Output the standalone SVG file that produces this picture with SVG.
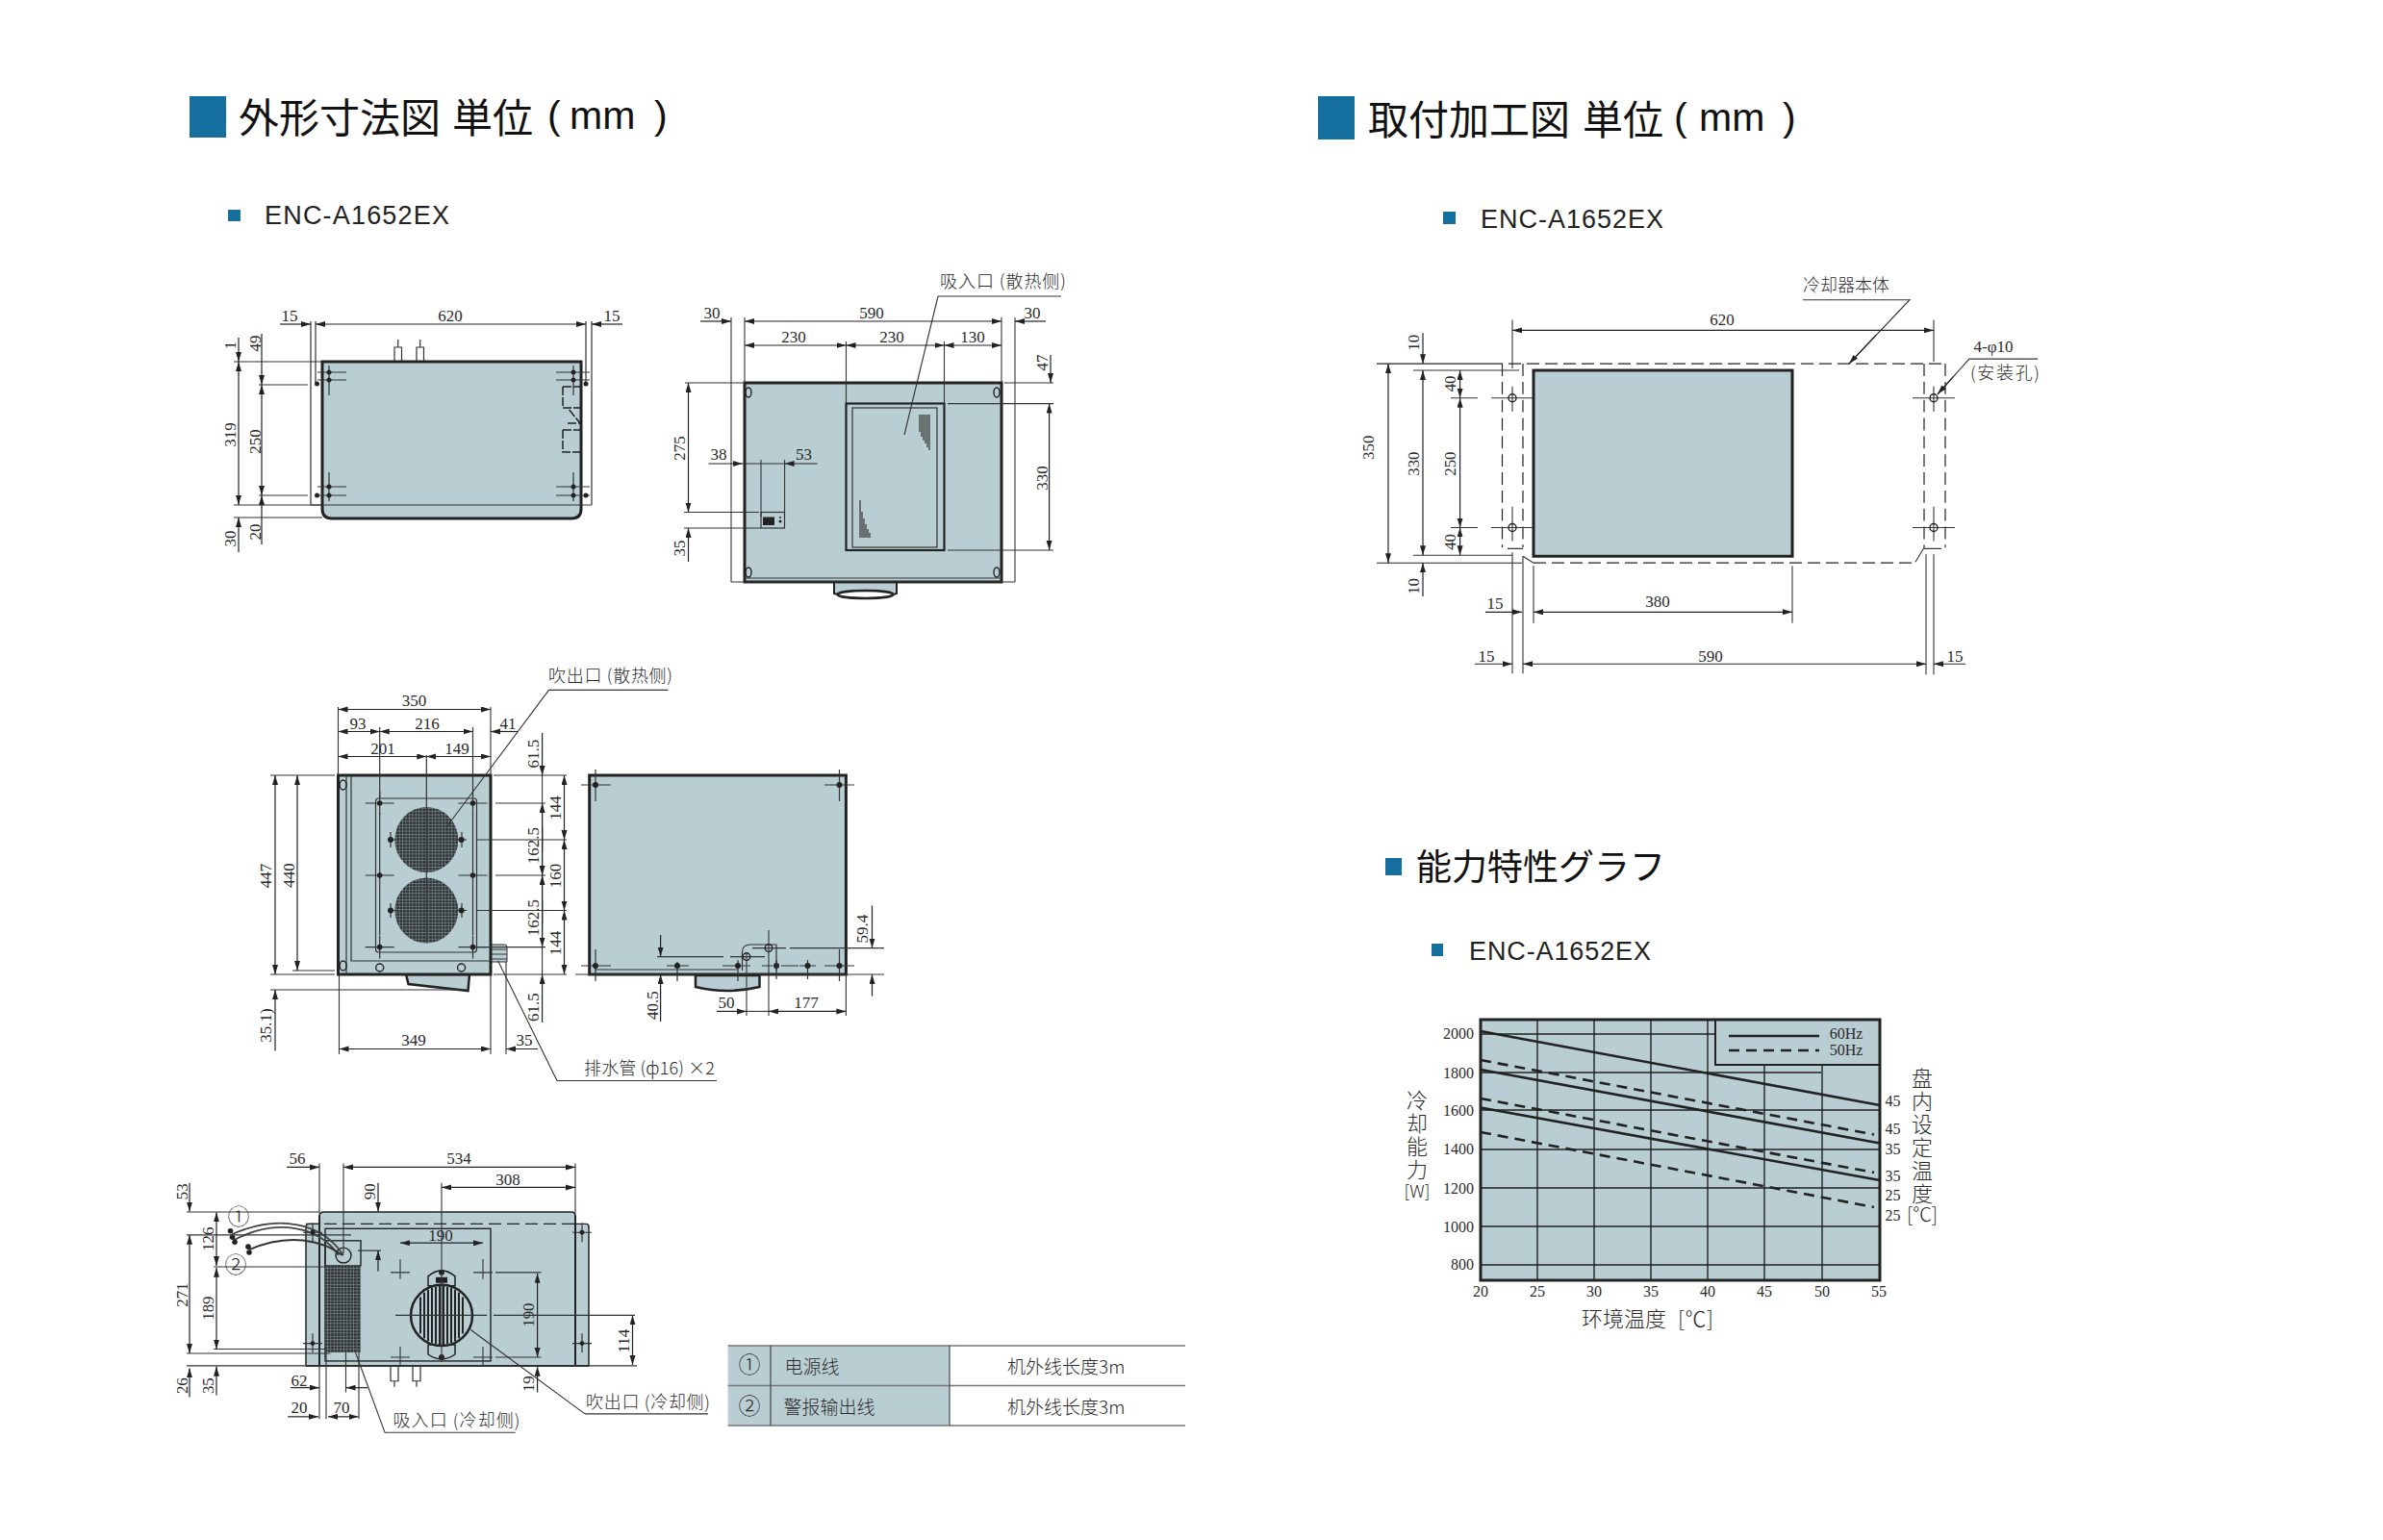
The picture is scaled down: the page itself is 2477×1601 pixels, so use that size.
<svg xmlns="http://www.w3.org/2000/svg" width="2477" height="1601" viewBox="0 0 2477 1601">
<style>
.bl{fill:#16709f}
.body{fill:#b9ced3;stroke:#222;stroke-width:3}
.fl{fill:#b9ced3;stroke:none}
.th{fill:none;stroke:#333;stroke-width:1.2}
.x{fill:none;stroke:#333;stroke-width:1.1}
.dk{fill:none;stroke:#222;stroke-width:2}
.ds{fill:none;stroke:#222;stroke-width:1.4;stroke-dasharray:13 6}
.b{fill:none;stroke:#222;stroke-width:1.2;marker-start:url(#a);marker-end:url(#a)}
.e{fill:none;stroke:#222;stroke-width:1.2;marker-end:url(#a)}
.dot{fill:#222}
.hole{fill:none;stroke:#222;stroke-width:1.4}
text{fill:#2a2a2a}
.n{font:17px "Liberation Serif","Noto Sans CJK SC",serif;text-anchor:middle}
.c{font:300 18px "Noto Sans CJK SC","Noto Sans CJK JP",sans-serif}
.h{font:400 42px "Noto Sans CJK JP","Noto Sans CJK SC",sans-serif;fill:#111}
.l{font:300 41px "Liberation Sans",Arial,sans-serif;fill:#111}
.s{font:27px "Liberation Sans",Arial,sans-serif;fill:#222}
.v{font:300 22px "Noto Sans CJK SC",sans-serif;text-anchor:middle}
.vv{font:300 22px "Noto Sans CJK SC",sans-serif;writing-mode:vertical-rl;letter-spacing:2px}
.g{font:16px "Liberation Serif",serif;text-anchor:middle}
.ly{font:16px "Liberation Serif",serif;text-anchor:end}
.ls{font:16px "Liberation Serif",serif}
.t{font:300 19px "Noto Sans CJK SC",sans-serif}
.ci{font:300 23px "Noto Sans CJK SC",sans-serif;text-anchor:middle}
</style>
<defs>
<marker id="a" markerUnits="userSpaceOnUse" markerWidth="11" markerHeight="7" refX="10" refY="3" orient="auto-start-reverse"><path d="M0 0L10 3L0 6z" fill="#222"/></marker>
<pattern id="mesh" width="3.4" height="3.4" patternUnits="userSpaceOnUse"><rect width="3.4" height="3.4" fill="#2d3133"/><path d="M0 .5H3.4M.5 0V3.4" stroke="#7d8b8f" stroke-width=".7"/></pattern>
<g id="cr"><path class="th" d="M-15 0H15M0 -12V12"/><circle class="dot" r="2.8"/></g>
</defs>
<rect width="2477" height="1601" fill="#fff"/>

<g id="headings">
<rect class="bl" x="197" y="100" width="38" height="43"/>
<text class="h" x="248" y="138">外形寸法図</text><text class="h" x="470" y="138">単位</text><text class="l" x="569" y="134">(</text><text class="l" x="592" y="134">mm</text><text class="l" x="680" y="134">)</text>
<rect class="bl" x="237" y="218" width="13" height="12"/><text class="s" x="275" y="233" textLength="192">ENC-A1652EX</text>
<rect class="bl" x="1370" y="100" width="38" height="45"/>
<text class="h" x="1422" y="139.500">取付加工図</text><text class="h" x="1645" y="139.500">単位</text><text class="l" x="1740" y="136">(</text><text class="l" x="1766" y="136">mm</text><text class="l" x="1853" y="136">)</text>
<rect class="bl" x="1500" y="220" width="13" height="13"/><text class="s" x="1539" y="236.500" textLength="190">ENC-A1652EX</text>
<rect class="bl" x="1440" y="892" width="17" height="18"/>
<text class="h" style="font-size:37px" x="1472" y="915">能力特性グラフ</text>
<rect class="bl" x="1488" y="981" width="12" height="13"/><text class="s" x="1527" y="997.500" textLength="189">ENC-A1652EX</text>
</g>

<g id="view-side-top" transform="translate(0,-1)">
<path class="th" d="M410 377V362H417.500V377M433 377V362H440.500V377M413.700 362V354M436.700 362V354"/>
<path class="body" d="M335 377H604V530Q604 540 594 540H345Q335 540 335 530Z"/>
<path class="th" d="M323 335V526M328 335V400M615 335V526M609 335V400M323 526H615M335 526H604"/>
<path class="x" d="M243 377H335M269 401H320M269 516H320M243 526H335M243 539H335"/>
<path class="th" d="M330 388H360M330 396H360M330 507H360M330 516H360M578 388H613M578 396H613M578 507H613M578 516H613M342 381V412M342 492V522M596 381V412M596 492V522"/>
<circle class="dot" cx="342" cy="388" r="2.5"/><circle class="dot" cx="342" cy="396" r="2.5"/><circle class="dot" cx="342" cy="507" r="2.5"/><circle class="dot" cx="342" cy="516" r="2.5"/>
<circle class="dot" cx="596" cy="388" r="2.5"/><circle class="dot" cx="596" cy="396" r="2.5"/><circle class="dot" cx="596" cy="507" r="2.5"/><circle class="dot" cx="596" cy="516" r="2.5"/>
<circle class="dot" cx="329.500" cy="400" r="2.5"/><circle class="dot" cx="609" cy="400" r="2.5"/><circle class="dot" cx="329.500" cy="516" r="2.5"/><circle class="dot" cx="609" cy="516" r="2.5"/>
<path class="dk" style="stroke-width:1.500;stroke-dasharray:9 2" d="M585 403H603M585 403V425H603M590 441H603L590 425M585 448H603M585 448V471H603"/>
<path class="b" d="M328 338H609"/><path class="e" d="M291 338H323"/><path class="e" d="M647 338H615"/>
<path class="e" d="M248 352V377"/><path class="b" d="M248 377V526"/><path class="e" d="M248 575V539"/>
<path class="e" d="M272 348V401"/><path class="b" d="M272 401V516"/><path class="e" d="M272 567V516"/>
<text class="n" x="301" y="335">15</text><text class="n" x="468" y="335">620</text><text class="n" x="636" y="335">15</text>
<text class="n" x="245" y="360" transform="rotate(-90 245 360)">1</text><text class="n" x="271" y="358" transform="rotate(-90 271 358)">49</text>
<text class="n" x="245" y="453" transform="rotate(-90 245 453)">319</text><text class="n" x="271" y="460" transform="rotate(-90 271 460)">250</text>
<text class="n" x="245" y="561" transform="rotate(-90 245 561)">30</text><text class="n" x="271" y="554" transform="rotate(-90 271 554)">20</text>
</g>

<g id="view-back-top" transform="translate(0,-1)">
<rect class="fl" x="774" y="399" width="267" height="207"/>
<path d="M867 606V618Q899 628 932 618V606Z" fill="#b9ced3" stroke="#222" stroke-width="2"/>
<ellipse cx="899.500" cy="619" rx="29" ry="4" fill="#fff" stroke="#222" stroke-width="2.500"/>
<rect class="body" x="774" y="399" width="267" height="207" style="fill:none"/>
<path class="th" d="M774 602H1041"/>
<ellipse class="hole" cx="778" cy="409" rx="3" ry="5"/><ellipse class="hole" cx="1036" cy="409" rx="3" ry="5"/><ellipse class="hole" cx="778" cy="596" rx="3" ry="5"/><ellipse class="hole" cx="1036" cy="596" rx="3" ry="5"/>
<rect x="879.500" y="420.500" width="102" height="152.500" fill="none" stroke="#222" stroke-width="2.200"/>
<rect x="886" y="425" width="88" height="145" fill="none" stroke="#333" stroke-width="1.200"/>
<path class="th" d="M956 432V450M958 432V455M960 432V459M962 432V462M964 432V466M966 432V469M894 521V560M896 533V560M898 540V560M900 546V560M902 551V560M904 555V560"/>
<rect x="791" y="533.500" width="24.500" height="16.500" fill="none" stroke="#333" stroke-width="1.200"/><rect class="dot" x="793" y="538.500" width="12" height="8.500"/><circle class="dot" cx="811" cy="539" r="1"/><circle class="dot" cx="811" cy="543" r="1.500"/>
<path class="x" d="M760 331V606M1055 331V606M774 331V399M1041 331V399M879.500 356V420M981.500 356V420M1044 399H1095M985 420.600H1095M985 573H1095M712 399H774M711 533.500H789M711 550H791M791 479V538M815.600 479V533M760 606H1055"/>
<path class="x" d="M975 309H1103M975 309L940 453"/>
<path class="b" d="M774 335H1041"/><path class="e" d="M728 335H760"/><path class="e" d="M1087 335H1055"/>
<path class="b" d="M774 360H879.500"/><path class="b" d="M879.500 360H981.500"/><path class="b" d="M981.500 360H1041"/>
<path class="e" d="M1092 370V399"/><path class="b" d="M1090.600 420.600V573"/><path class="b" d="M715.500 399V533.500"/><path class="e" d="M715.500 585V550"/>
<path class="e" d="M736.500 483H771.600"/><path class="x" d="M771 483H816"/><path class="e" d="M849.500 483H815.600"/>
<text class="n" x="740" y="332">30</text><text class="n" x="906" y="332">590</text><text class="n" x="1073" y="332">30</text>
<text class="n" x="825" y="357">230</text><text class="n" x="927" y="357">230</text><text class="n" x="1011" y="357">130</text>
<text class="n" x="747" y="479">38</text><text class="n" x="835.500" y="479">53</text>
<text class="n" x="1089" y="378" transform="rotate(-90 1089 378)">47</text><text class="n" x="1089" y="498" transform="rotate(-90 1089 498)">330</text>
<text class="n" x="712" y="467" transform="rotate(-90 712 467)">275</text><text class="n" x="712" y="571" transform="rotate(-90 712 571)">35</text>
<text class="c" x="977" y="300" textLength="131">吸入口 (散热侧)</text>
</g>

<g id="view-heat-side">
<path d="M422 1013L424.500 1023L486.500 1030L488 1013Z" fill="#b9ced3" stroke="#222" stroke-width="2.500"/>
<path d="M508.500 982H525Q527 982 527 985V1000H508.500Z" fill="#b9ced3" stroke="#333" stroke-width="1"/>
<path class="th" d="M506 987H527M506 992H527M506 997H527"/>
<rect class="body" x="351.500" y="806" width="158.500" height="207"/>
<path class="th" d="M360 806V1013M365 806V999H510"/>
<ellipse class="hole" cx="356.600" cy="816" rx="3.500" ry="5"/><ellipse class="hole" cx="356.600" cy="1004" rx="3.500" ry="5"/>
<circle class="hole" cx="394.700" cy="1006" r="4"/><circle class="hole" cx="479.600" cy="1006" r="4"/>
<rect x="390.500" y="830" width="105" height="160" rx="3" fill="none" stroke="#333" stroke-width="1.200"/>
<ellipse cx="443.300" cy="873" rx="33" ry="34" fill="url(#mesh)"/><ellipse cx="443.300" cy="946.500" rx="33" ry="34" fill="url(#mesh)"/>
<path class="th" d="M394.700 756V830M394.700 845V898M394.700 922V972M491.500 756V830M491.500 845V898M491.500 922V972M443.300 785V980"/>
<use href="#cr" x="394.700" y="835"/><use href="#cr" x="491.500" y="835"/><use href="#cr" x="394.700" y="910"/><use href="#cr" x="491.500" y="910"/><use href="#cr" x="394.700" y="984.600"/><use href="#cr" x="491.500" y="984.600"/>
<path class="th" d="M404 873H412M406 865V881M475 873H485M480 865V881M404 946.500H412M406 939V954M475 946.500H485M480 939V954"/>
<circle class="dot" cx="406" cy="873" r="3"/><circle class="dot" cx="479.600" cy="873" r="3"/><circle class="dot" cx="406" cy="946.500" r="3"/><circle class="dot" cx="479.600" cy="946.500" r="3"/>
<path class="x" d="M351.500 735V806M510 735V806M281 806H348M513 806H589M515 835H567M496 873H589M515 910H567M496 946.500H589M496 984.600H567M281 1013H348M513 1013H589M304 1009H348M281 1029H485.600M352.500 1014V1096M510 1014V1096M526 1000V1096"/>
<path class="x" d="M570.500 717.400H694.500M570.500 717.400L464 860M579 1123.500H745M579 1123.500L517.700 999"/>
<path class="b" d="M351.500 737.500H510"/><path class="b" d="M351.500 760.500H394.700"/><path class="b" d="M394.700 760.500H491.500"/><path class="e" d="M538 760.500H510"/>
<path class="b" d="M351.500 786.500H443.300"/><path class="b" d="M443.300 786.500H510"/>
<path class="b" d="M286 806V1013"/><path class="b" d="M309 806V1009"/><path class="e" d="M286 1092.500V1029"/>
<path class="e" d="M563.600 762V806"/><path class="e" d="M563.600 1063V1013"/><path class="x" d="M563.600 806V1013"/>
<path class="e" d="M563.600 885V835"/><path class="e" d="M563.600 860V910"/><path class="e" d="M563.600 960V910"/><path class="e" d="M563.600 935V984.600"/>
<path class="b" d="M586.500 806V873"/><path class="b" d="M586.500 873V946.500"/><path class="b" d="M586.500 946.500V1013"/>
<path class="b" d="M352.500 1090.500H510"/><path class="e" d="M559 1090.500H526"/>
<text class="n" x="430.500" y="734">350</text><text class="n" x="372" y="757.500">93</text><text class="n" x="444" y="757.500">216</text><text class="n" x="528" y="757.500">41</text><text class="n" x="398" y="783.500">201</text><text class="n" x="475" y="783.500">149</text>
<text class="n" x="282" y="910.500" transform="rotate(-90 282 910.500)">447</text><text class="n" x="306" y="910" transform="rotate(-90 306 910)">440</text><text class="n" x="282" y="1066" transform="rotate(-90 282 1066)">35.1)</text>
<text class="n" x="560" y="783.500" transform="rotate(-90 560 783.500)">61.5</text><text class="n" x="560" y="879" transform="rotate(-90 560 879)">162.5</text><text class="n" x="560" y="954" transform="rotate(-90 560 954)">162.5</text><text class="n" x="560" y="1047" transform="rotate(-90 560 1047)">61.5</text>
<text class="n" x="583" y="840" transform="rotate(-90 583 840)">144</text><text class="n" x="583" y="910.500" transform="rotate(-90 583 910.500)">160</text><text class="n" x="583" y="980.600" transform="rotate(-90 583 980.600)">144</text>
<text class="n" x="430" y="1087">349</text><text class="n" x="545" y="1087">35</text>
<text class="c" x="570" y="709" textLength="129">吹出口 (散热侧)</text>
<text class="c" x="607" y="1117" textLength="136">排水管 (ф16) ×2</text>
</g>

<g id="view-back-side">
<path d="M723 1014V1026Q756 1034 789.500 1026V1014Z" fill="#b9ced3" stroke="#222" stroke-width="2.500"/>
<rect class="body" x="612.700" y="806" width="266.700" height="207"/>
<path class="th" d="M598 1013H919M618 1008H767"/>
<path class="th" d="M604 816H635M619 800V833M857 816H888M872.500 800V833M604 1004H635M619 987V1020M857 1004H888M872.500 987V1020M693 1004H716M704 1000V1020M751 1004H780M767 998V1020M792 1004H803M812 1004H830M807 998V1018M831 1004H848M839.500 998V1018"/>
<circle class="dot" cx="619" cy="816" r="3"/><circle class="dot" cx="872.500" cy="816" r="3"/><circle class="dot" cx="619" cy="1004" r="3"/><circle class="dot" cx="872.500" cy="1004" r="3"/><circle class="dot" cx="704" cy="1004" r="3"/><circle class="dot" cx="767" cy="1004" r="3"/><circle class="dot" cx="807" cy="1004" r="3"/><circle class="dot" cx="839.500" cy="1004" r="3"/>
<path class="th" d="M771.500 1009V990Q771.500 982 780 982H807V1009"/>
<circle class="hole" cx="776" cy="994.600" r="3.800"/><circle class="hole" cx="799" cy="985.600" r="3.800"/>
<path class="x" d="M683 994.600H752M759 994.600H795M782 985.600H817M821 985.600H919M776 990V1056M799 967V1056M879.400 1013V1056"/>
<path class="e" d="M906.500 941.500V985.600"/><path class="e" d="M906.500 1035.700V1013"/><path class="e" d="M686.600 972V994.600"/><path class="e" d="M686.600 1062V1013"/>
<path class="e" d="M745 1051.400H776"/><path class="x" d="M776 1051.400H799"/><path class="b" d="M799 1051.400H879.400"/>
<text class="n" x="902" y="965.600" transform="rotate(-90 902 965.600)">59.4</text><text class="n" x="684" y="1045" transform="rotate(-90 684 1045)">40.5</text>
<text class="n" x="755" y="1048">50</text><text class="n" x="838" y="1048">177</text>
</g>

<g id="view-bottom" transform="translate(0,12.100) scale(1,.99)">
<path class="th" d="M406 1422V1438H414V1422M429 1422V1438H437V1422M410 1438V1444M433 1438V1444"/>
<path d="M318 1276Q318 1273 321 1273H332V1265Q332 1260.500 337 1260.500H594Q598 1260.500 598 1265V1273H609Q612 1273 612 1276V1422H318Z" fill="#b9ced3" stroke="#222" stroke-width="1.500"/>
<path class="ds" d="M318 1273H598"/>
<path d="M332 1264V1422M598 1264V1422" class="dk"/><path class="dk" d="M318 1422H612"/>
<rect x="338" y="1278" width="172" height="139" fill="none" stroke="#222" stroke-width="1.400"/>
<rect x="338" y="1290.600" width="37" height="26.400" fill="none" stroke="#222" stroke-width="1.400"/>
<rect x="338" y="1317" width="37" height="91" fill="url(#mesh)"/>
<circle class="hole" cx="357" cy="1306" r="8"/>
<path d="M357 1306C335 1272 290 1262 241 1284M352 1306C332 1276 288 1266 243 1290" fill="none" stroke="#444" stroke-width="1.800"/>
<path d="M356 1306C335 1290 300 1282 259 1300" fill="none" stroke="#333" stroke-width="2"/>
<circle class="dot" cx="239.500" cy="1280.500" r="2.800"/><circle class="dot" cx="241.500" cy="1287" r="2.800"/><circle class="dot" cx="244" cy="1292" r="2.800"/><circle class="dot" cx="258" cy="1297" r="2.800"/><circle class="dot" cx="259" cy="1303" r="2.800"/>
<path d="M445 1328Q459 1316 473 1328V1338H445Z M445 1400H473V1410Q459 1420 445 1410Z" fill="#b9ced3" stroke="#222" stroke-width="1.500"/>
<ellipse cx="459" cy="1369" rx="32" ry="32" fill="#b9ced3" stroke="#222" stroke-width="2.500"/>
<path d="M437 1350V1388M441 1345V1393M445 1342V1396M449 1340V1398M453 1339V1399M457 1338V1400M461 1338V1400M465 1339V1399M469 1340V1398M473 1342V1396M477 1345V1393M481 1350V1388" stroke="#222" stroke-width="2" fill="none"/>
<circle class="dot" cx="459" cy="1324" r="3"/><circle class="dot" cx="459" cy="1413" r="3"/><rect class="dot" x="453" y="1329" width="12" height="6"/>
<path class="x" d="M459 1230V1418M411 1369H506M513 1369H660M416 1310V1331M502 1310V1331M406 1324H426M492 1324H512M406 1413H426M492 1413H512M416 1402V1421M502 1402V1421M515 1324H562.500M515 1413H562.500"/>
<path class="th" d="M315 1282H335M325 1272V1292M595 1282H615M605 1272V1292M315 1398.500H335M325 1388V1408M595 1398.500H615M605 1388V1408"/>
<circle class="dot" cx="325" cy="1282" r="2.500"/><circle class="dot" cx="605" cy="1282" r="2.500"/><circle class="dot" cx="325" cy="1398.500" r="2.500"/><circle class="dot" cx="605" cy="1398.500" r="2.500"/>
<path class="x" d="M332 1209.500V1262M357 1209.500V1304M598 1209.500V1262M332 1423V1478M339 1408V1478M373 1408V1478M359.500 1408V1450M194 1260.500H332M194 1284.600H365M194 1422H662M222 1318H338M222 1404.500H339M194 1409H343.500M372 1301H396"/>
<path class="x" d="M400 1492H535.600M400 1492L369.500 1408M608 1472.500H736M608 1472.500L489 1384"/>
<path class="e" d="M298 1213.500H332"/><path class="b" d="M357 1213.500H598"/><path class="b" d="M459 1234.700H598"/><path class="b" d="M416 1293H502"/>
<path class="b" d="M558.600 1325V1413"/><path class="e" d="M558.600 1450V1423"/><path class="b" d="M657.500 1369V1421"/>
<path class="e" d="M197 1230V1260"/><path class="b" d="M197 1284.600V1409"/><path class="e" d="M197 1455V1424.600"/>
<path class="b" d="M225 1261V1317"/><path class="b" d="M225 1319V1404.500"/><path class="e" d="M225 1453V1423"/>
<path class="e" d="M393 1230V1260"/><path class="e" d="M393 1323V1301"/>
<path class="e" d="M302 1445H332"/><path class="e" d="M382.500 1445H359.500"/><path class="e" d="M299 1475.500H331"/><path class="b" d="M341 1475.500H372.500"/>
<text class="n" x="309" y="1210">56</text><text class="n" x="477" y="1210">534</text><text class="n" x="528" y="1232">308</text><text class="n" x="458" y="1291">190</text><text class="n" x="311" y="1443">62</text><text class="n" x="311" y="1471.500">20</text><text class="n" x="355" y="1471.500">70</text>
<text class="n" x="195" y="1239" transform="rotate(-90 195 1239)">53</text><text class="n" x="195" y="1347.500" transform="rotate(-90 195 1347.500)">271</text><text class="n" x="195" y="1443" transform="rotate(-90 195 1443)">26</text>
<text class="n" x="222" y="1289" transform="rotate(-90 222 1289)">126</text><text class="n" x="222" y="1361.600" transform="rotate(-90 222 1361.600)">189</text><text class="n" x="222" y="1443" transform="rotate(-90 222 1443)">35</text>
<text class="n" x="390" y="1239" transform="rotate(-90 390 1239)">90</text><text class="n" x="555" y="1368.700" transform="rotate(-90 555 1368.700)">190</text><text class="n" x="555" y="1441" transform="rotate(-90 555 1441)">19</text><text class="n" x="653.600" y="1396" transform="rotate(-90 653.600 1396)">114</text>
<text class="ci" x="248" y="1274">①</text><text class="ci" x="245" y="1324">②</text>
<text class="c" x="408.500" y="1485.600" textLength="132">吸入口 (冷却侧)</text><text class="c" x="609" y="1466.500" textLength="129">吹出口 (冷却侧)</text>
</g>

<g id="cable-table" transform="translate(0,-2)">
<rect class="fl" x="756.600" y="1401" width="230.400" height="83"/>
<path d="M756.600 1401H1232M756.600 1442.600H1232M756.600 1484H1232" stroke="#777" stroke-width="1.500" fill="none"/>
<path d="M801 1401V1484M987 1401V1484" stroke="#444" stroke-width="1.200" fill="none"/>
<text class="ci" x="779" y="1429">①</text><text class="ci" x="779" y="1472">②</text>
<text class="t" x="815.600" y="1429.500">电源线</text><text class="t" x="814.600" y="1472">警报输出线</text>
<text class="t" x="1047" y="1429.500">机外线长度3m</text><text class="t" x="1047" y="1472">机外线长度3m</text>
</g>

<g id="mounting-plan" transform="translate(0,1.500) scale(1,.991)">
<rect class="body" x="1594" y="387" width="269" height="195"/>
<path d="M1431 380H1549M1431 589H1582" class="x" style="stroke:#222"/>
<path class="ds" d="M1549 380H2022M1594 589H1990M1561.500 380V573M1583 380V573M2000 380V573M2022 380V573" style="stroke-width:1.200"/>
<path class="x" d="M1567 574H1583M2000 574H2018M1991 588L2000 573M1583 582L1594 589"/>
<path class="x" d="M1572 334V385M1572 404V430M1572 530V566M1572 578V705M2010 334V378M2010 404V430M2010 530V566M2010 580V706M1583 582V705M2002 580V706M1594 592V652M1863 592V652M1469 387H1579M1469 581H1572M1508 416H1536M1508 552H1536M1550 416H1594M1550 552H1594M1988 416H2032M1988 552H2032"/>
<circle class="hole" cx="1572" cy="416" r="4"/><circle class="hole" cx="1572" cy="552" r="4"/><circle class="hole" cx="2010" cy="416" r="4"/><circle class="hole" cx="2010" cy="552" r="4"/>
<path class="x" d="M1874 313H1985L1922 380"/><path class="x" d="M2118 375H2047L2014 412"/>
<path class="e" d="M1950 350L1922 380"/><path class="e" d="M2030 394L2014 412"/>
<path class="b" d="M1572 345H2010"/><path class="b" d="M1443 380V589"/><path class="b" d="M1479 387V581"/><path class="e" d="M1479 348V380"/><path class="e" d="M1479 624V589"/>
<path class="b" d="M1517.600 387V416"/><path class="b" d="M1517.600 416V552"/><path class="b" d="M1517.600 552V581"/>
<path class="b" d="M1594 640.600H1863"/><path class="e" d="M1544 640.600H1582"/><path class="b" d="M1583 695H2002"/><path class="e" d="M1533 695H1572"/><path class="e" d="M2043 695H2010"/>
<text class="n" x="1790" y="339.500">620</text><text class="n" x="1723" y="635.500">380</text><text class="n" x="1554" y="637.600">15</text><text class="n" x="1778" y="692.600">590</text><text class="n" x="1545" y="692.600">15</text><text class="n" x="2032" y="692.600">15</text>
<text class="n" x="1428" y="468" transform="rotate(-90 1428 468)">350</text><text class="n" x="1475" y="358" transform="rotate(-90 1475 358)">10</text><text class="n" x="1475" y="485" transform="rotate(-90 1475 485)">330</text><text class="n" x="1475" y="613.500" transform="rotate(-90 1475 613.500)">10</text>
<text class="n" x="1513" y="401" transform="rotate(-90 1513 401)">40</text><text class="n" x="1513" y="485" transform="rotate(-90 1513 485)">250</text><text class="n" x="1513" y="567" transform="rotate(-90 1513 567)">40</text>
<text class="c" x="1874" y="304">冷却器本体</text>
<text class="n" x="2072" y="368">4-φ10</text><text class="c" x="2048" y="396" textLength="72">(安装孔)</text>
</g>

<g id="capacity-chart">
<rect x="1539" y="1060" width="415" height="271" fill="#b9ced3"/>
<path class="th" style="stroke-width:1.400;stroke:#222" d="M1598 1060V1331M1657 1060V1331M1716 1060V1331M1775 1060V1331M1834 1107V1331M1894 1107V1331M1539 1075H1783M1539 1115H1893M1539 1154H1954M1539 1195H1954M1539 1235H1954M1539 1275H1954M1539 1315H1954"/>
<rect x="1783" y="1060" width="171" height="47" fill="#b9ced3" stroke="#222" stroke-width="2"/>
<rect x="1539" y="1060" width="415" height="271" fill="none" stroke="#222" stroke-width="3"/>
<path d="M1539 1072L1954 1149M1539 1112L1954 1188.500M1539 1151.500L1954 1227M1797 1077H1891" fill="none" stroke="#222" stroke-width="2.600"/>
<path d="M1539 1102L1948 1179.500M1539 1142L1948 1219M1539 1177L1948 1255M1797 1092H1891" fill="none" stroke="#222" stroke-width="2.600" stroke-dasharray="11 7"/>
<text class="g" x="1919" y="1079.500">60Hz</text><text class="g" x="1919" y="1096.500">50Hz</text>
<text class="ly" x="1532" y="1080">2000</text><text class="ly" x="1532" y="1120.500">1800</text><text class="ly" x="1532" y="1159.500">1600</text><text class="ly" x="1532" y="1199.500">1400</text><text class="ly" x="1532" y="1240.500">1200</text><text class="ly" x="1532" y="1280.500">1000</text><text class="ly" x="1532" y="1319.500">800</text>
<text class="g" x="1539" y="1348">20</text><text class="g" x="1598" y="1348">25</text><text class="g" x="1657" y="1348">30</text><text class="g" x="1716" y="1348">35</text><text class="g" x="1775" y="1348">40</text><text class="g" x="1834" y="1348">45</text><text class="g" x="1894" y="1348">50</text><text class="g" x="1953" y="1348">55</text>
<text class="ls" x="1959.500" y="1150">45</text><text class="ls" x="1959.500" y="1179">45</text><text class="ls" x="1959.500" y="1199.500">35</text><text class="ls" x="1959.500" y="1227.500">35</text><text class="ls" x="1959.500" y="1248">25</text><text class="ls" x="1959.500" y="1268.500">25</text>
<text class="v" style="text-anchor:start" x="1644" y="1378.500">环境温度</text><text class="v" style="text-anchor:start" x="1744" y="1378.500" textLength="37">[℃]</text>
<text class="vv" x="1473" y="1133">冷却能力</text><text class="v" style="font-size:18px" x="1473" y="1245">[W]</text>
<text class="vv" x="1998" y="1110">盘内设定温度</text><text class="v" style="text-anchor:start;font-size:20px" x="1982" y="1270" textLength="32">[℃]</text>
</g>
</svg>
